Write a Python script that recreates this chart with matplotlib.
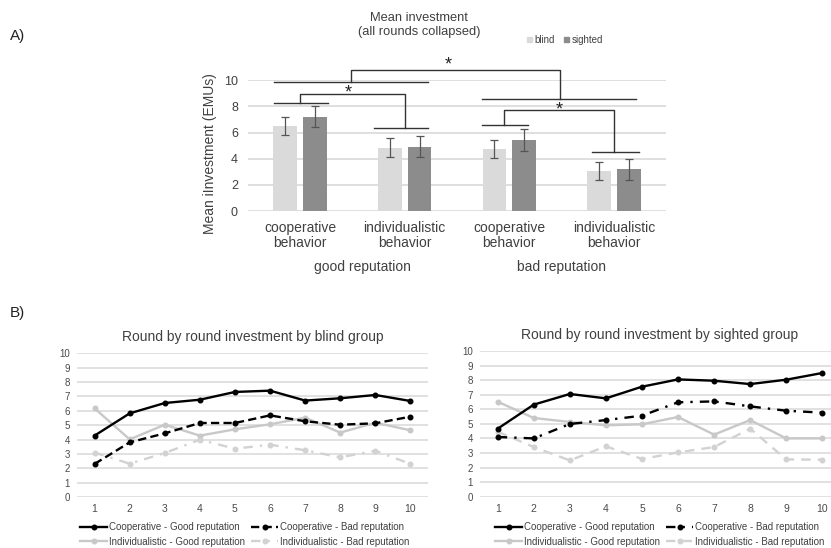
import matplotlib
matplotlib.use("Agg")
import matplotlib.pyplot as plt
from matplotlib.patches import Patch

plt.rcParams['font.family'] = ['Liberation Sans', 'DejaVu Sans']

# --- data: panel A (bars) ---
categories = ["cooperative\nbehavior", "individualistic\nbehavior",
              "cooperative\nbehavior", "individualistic\nbehavior"]
reputation_groups = ["good reputation", "bad reputation"]
blind_mean = [6.5, 4.85, 4.72, 3.06]
sighted_mean = [7.2, 4.92, 5.43, 3.21]
blind_err = [0.72, 0.70, 0.70, 0.70]
sighted_err = [0.80, 0.82, 0.85, 0.80]

# --- data: panel B (round by round) ---
rounds = [1, 2, 3, 4, 5, 6, 7, 8, 9, 10]
blind_coop_good = [4.27, 5.82, 6.54, 6.77, 7.31, 7.40, 6.71, 6.87, 7.10, 6.68]
blind_coop_bad = [2.30, 3.80, 4.43, 5.15, 5.15, 5.68, 5.27, 5.03, 5.13, 5.59]
blind_ind_good = [6.17, 4.01, 5.03, 4.27, 4.71, 5.06, 5.52, 4.48, 5.17, 4.64]
blind_ind_bad = [3.09, 2.32, 3.06, 3.99, 3.36, 3.64, 3.25, 2.76, 3.22, 2.30]
sighted_coop_good = [4.67, 6.32, 7.05, 6.75, 7.55, 8.05, 7.96, 7.73, 8.03, 8.49]
sighted_coop_bad = [4.10, 4.00, 4.99, 5.26, 5.56, 6.48, 6.54, 6.20, 5.90, 5.77]
sighted_ind_good = [6.52, 5.40, 5.13, 4.90, 4.97, 5.47, 4.26, 5.26, 4.00, 4.00]
sighted_ind_bad = [4.46, 3.41, 2.49, 3.46, 2.59, 3.04, 3.41, 4.67, 2.56, 2.54]
series_labels = ["Cooperative - Good reputation", "Cooperative - Bad reputation",
                 "Individualistic - Good reputation", "Individualistic - Bad reputation"]

W, H = 831, 548
fig = plt.figure(figsize=(W / 100, H / 100), dpi=100)

def fx(px):
    return px / W

def fy(py):
    return 1 - py / H

def axes_px(left, top, right, bottom):
    return fig.add_axes([fx(left), fy(bottom), fx(right - left), (bottom - top) / H])

text_col = '#404040'
grid_col = '#d9d9d9'
blind_col = '#dadada'
sighted_col = '#8c8c8c'

# ---------------- Panel A ----------------
ax = axes_px(247.6, 80.3, 666.4, 211)
x = list(range(len(categories)))
bw = 0.225
off = 0.142
ax.bar([i - off for i in x], blind_mean, bw, yerr=blind_err, color=blind_col,
       error_kw=dict(ecolor='#555555', elinewidth=0.9, capsize=3, capthick=0.9), zorder=2)
ax.bar([i + off for i in x], sighted_mean, bw, yerr=sighted_err, color=sighted_col,
       error_kw=dict(ecolor='#555555', elinewidth=0.9, capsize=3, capthick=0.9), zorder=2)
ax.set_xlim(-0.5, 3.5)
ax.set_ylim(0, 10)
ax.set_yticks([0, 2, 4, 6, 8, 10])
ax.yaxis.grid(True, color=grid_col, lw=1.2)
ax.set_axisbelow(True)
for s in ax.spines.values():
    s.set_visible(False)
ax.tick_params(length=0, colors=text_col)
ax.tick_params(axis='y', labelsize=9, pad=7)
ax.set_xticks(x)
ax.set_xticklabels(categories, fontsize=10, linespacing=1.1)
ax.tick_params(axis='x', pad=7)
for xpos, lab in zip([0.6, 2.5], reputation_groups):
    ax.text(xpos, -0.43, lab, transform=ax.get_xaxis_transform(), ha='center',
            va='center', fontsize=10, color=text_col)

def bracket(ax, left_span, y_left, right_span, y_right, x_l, x_r, y_top, star):
    kw = dict(color='#333333', lw=1.0, clip_on=False, zorder=3)
    ax.plot(left_span, [y_left, y_left], **kw)
    ax.plot([x_l, x_l, x_r, x_r], [y_left, y_top, y_top, y_right], **kw)
    ax.plot(right_span, [y_right, y_right], **kw)
    ax.text(star[0], star[1], '*', ha='center', va='center', fontsize=13,
            color='#222222', clip_on=False)

bracket(ax, [-0.25, 1.22], 9.87, [1.74, 3.21], 8.6, 0.49, 2.48, 10.77, (1.42, 11.2))
bracket(ax, [-0.25, 0.27], 8.3, [0.71, 1.22], 6.37, 0.0, 1.0, 8.93, (0.46, 9.0))
bracket(ax, [1.74, 2.18], 6.6, [2.79, 3.24], 4.5, 1.95, 3.0, 7.7, (2.48, 7.7))

fig.text(fx(210), fy(154), 'Mean iInvestment (EMUs)', rotation=90, ha='center',
         va='center', fontsize=10, color=text_col)
fig.text(fx(419), fy(25), 'Mean investment\n(all rounds collapsed)', ha='center',
         va='center', fontsize=9.3, color=text_col, linespacing=1.15)
fig.legend(handles=[Patch(color=blind_col, label='blind'),
                    Patch(color=sighted_col, label='sighted')],
           loc='center left', bbox_to_anchor=(fx(527), fy(40)), ncol=2,
           frameon=False, fontsize=7, handlelength=0.5, handleheight=0.5,
           handletextpad=0.3, columnspacing=0.9, borderpad=0, borderaxespad=0,
           labelcolor=text_col)

fig.text(fx(10), fy(36), 'A)', fontsize=11, ha='left', va='center', color='#222222')
fig.text(fx(10), fy(313), 'B)', fontsize=11, ha='left', va='center', color='#222222')

# ---------------- Panel B ----------------
def round_panel(ax, title, cg, cb, ig, ib, cb_style, ib_style, legend_left):
    lw = 1.7
    h1, = ax.plot(rounds, cg, color='black', lw=lw, marker='o', ms=3.3, label=series_labels[0])
    h2, = ax.plot(rounds, cb, color='black', lw=lw, ls=cb_style, marker='o', ms=3.3,
                  label=series_labels[1])
    h3, = ax.plot(rounds, ig, color='#c8c8c8', lw=lw, marker='o', ms=3.3, label=series_labels[2])
    h4, = ax.plot(rounds, ib, color='#d2d2d2', lw=lw, ls=ib_style, marker='o', ms=3.3,
                  label=series_labels[3])
    for h in (h3, h4):
        h.set_zorder(1.5)
    ax.set_xlim(0.5, 10.5)
    ax.set_ylim(0, 10)
    ax.set_yticks(range(0, 11))
    ax.set_xticks(rounds)
    ax.yaxis.grid(True, color=grid_col, lw=1.1)
    ax.set_axisbelow(True)
    for s in ax.spines.values():
        s.set_visible(False)
    ax.tick_params(length=0, colors='#4a4a4a')
    ax.tick_params(axis='y', labelsize=7, pad=5)
    ax.tick_params(axis='x', labelsize=7.5, pad=5)
    ax.set_title(title, fontsize=10, color=text_col, pad=9)
    fig.legend(handles=[h1, h3, h2, h4], loc='upper left',
               bbox_to_anchor=(fx(legend_left), fy(522)), ncol=2, frameon=False,
               fontsize=7, handlelength=2.8, handletextpad=0.2, columnspacing=0.6,
               labelspacing=0.5, borderpad=0, borderaxespad=0, labelcolor=text_col)

ax1 = axes_px(77, 353.3, 428, 497)
round_panel(ax1, 'Round by round investment by blind group',
            blind_coop_good, blind_coop_bad, blind_ind_good, blind_ind_bad,
            (0, (3.5, 1.8)), (0, (4, 3, 1, 3)), 80)

ax2 = axes_px(479.7, 351, 840.3, 496.7)
round_panel(ax2, 'Round by round investment by sighted group',
            sighted_coop_good, sighted_coop_bad, sighted_ind_good, sighted_ind_bad,
            (0, (4, 3, 1, 3)), (0, (4, 3)), 495)

fig.savefig('out.png', dpi=100)
